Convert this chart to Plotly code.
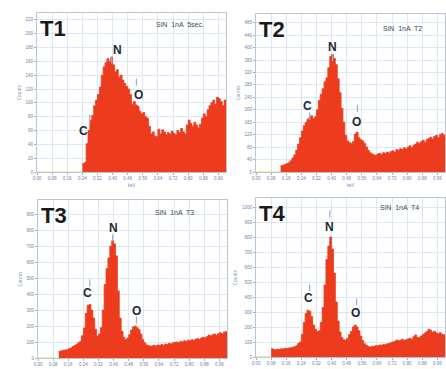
import numpy as np
import plotly.graph_objects as go

# ---------------- data (counts per 0.01 keV channel) ----------------
panel_names = ["T1", "T2", "T3", "T4"]
panel_info = ["SiN  1nA  5sec.", "SiN  1nA  T2", "SiN  1nA  T3", "SiN  1nA  T4"]
start_kev = [0.24, 0.13, 0.11, 0.08]
step_kev = 0.01

t1_counts = [12, 14, 41, 60, 75, 82, 96, 104, 112, 123, 140, 152, 158, 164, 160, 166, 155, 145, 148, 137,
             140, 133, 128, 124, 120, 112, 98, 102, 97, 95, 88, 84, 86, 80, 78, 66, 55, 58, 52, 51,
             62, 55, 61, 58, 54, 57, 55, 59, 56, 54, 60, 57, 63, 58, 55, 68, 75, 70, 66, 72,
             68, 64, 69, 78, 84, 80, 90, 96, 100, 104, 98, 108, 106, 102, 96, 104, 100]
t2_counts = [20, 22, 25, 27, 30, 36, 45, 55, 70, 90, 110, 132, 149, 160, 170, 176, 181, 172, 178, 200,
             230, 250, 268, 290, 303, 335, 372, 378, 365, 345, 300, 255, 205, 160, 118, 100, 95, 92, 98, 122,
             128, 110, 104, 100, 92, 80, 70, 62, 58, 55, 53, 58, 60, 57, 62, 60, 64, 61, 66, 68,
             64, 72, 70, 75, 72, 78, 74, 80, 84, 78, 86, 90, 96, 92, 98, 102, 96, 104, 108, 112,
             106, 114, 118, 110, 120, 124, 118, 122]
t3_counts = [42, 45, 48, 50, 52, 58, 62, 72, 78, 85, 95, 104, 140, 188, 280, 330, 335, 300, 250, 180,
             136, 150, 190, 300, 460, 560, 627, 700, 735, 715, 640, 420, 250, 167, 130, 115, 125, 146, 175, 195,
             200, 190, 178, 150, 115, 95, 82, 78, 73, 76, 80, 74, 82, 78, 85, 80, 88, 84, 92, 88,
             95, 98, 100, 96, 104, 100, 108, 104, 112, 108, 115, 110, 118, 122, 116, 125, 130, 126, 135, 144,
             138, 146, 150, 142, 152, 158, 150, 162, 165, 160]
t4_counts = [55, 50, 48, 52, 50, 55, 54, 58, 56, 60, 62, 65, 68, 75, 90, 100, 150, 230, 290, 312,
             305, 270, 213, 185, 170, 175, 230, 330, 480, 650, 740, 800, 720, 560, 367, 240, 167, 130, 115, 113,
             125, 150, 170, 200, 213, 200, 175, 140, 110, 89, 78, 70, 67, 72, 70, 76, 74, 80, 78, 84,
             82, 88, 90, 96, 100, 104, 113, 108, 112, 118, 110, 115, 120, 125, 118, 135, 147, 130, 128, 140,
             150, 160, 170, 185, 178, 165, 172, 160, 155, 162, 150, 148, 145]
all_counts = [t1_counts, t2_counts, t3_counts, t4_counts]

y_max = [230, 508, 990, 1060]
y_dtick = [20, 40, 100, 100]

elements = ["C", "N", "O"]
# label positions (keV, counts) per panel
label_kev = [[0.247, 0.426, 0.537], [0.274, 0.405, 0.532], [0.263, 0.400, 0.521], [0.279, 0.390, 0.526]]
label_cnt = [[59, 177, 111], [211, 403, 160], [408, 815, 295], [394, 867, 293]]
# small blue line markers
mark_kev = [[0.279, 0.395, 0.526], [0.284, 0.405, 0.537], [0.274, 0.395, 0.521], [0.284, 0.390, 0.532]]
mark_cnt = [[78, 162, 130], [179, 367, 204], [470, 752, 238], [460, 954, 367]]

# ---------------- layout geometry ----------------
W, H = 446, 369
boxes = [(37, 226, 13, 172), (256, 445, 14, 172), (38, 227, 200, 358), (256, 445, 198, 357)]

RED = "#EC3B1D"
fig = go.Figure()

for i in range(4):
    ax = "" if i == 0 else str(i + 1)
    xa, ya = "x" + ax, "y" + ax
    counts = all_counts[i]
    kev = np.round(start_kev[i] + step_kev * np.arange(len(counts)), 3)
    # zero-count baseline before the spectrum starts
    fig.add_trace(go.Scatter(x=[0, start_kev[i]], y=[0, 0], mode="lines",
                             line=dict(color="#e9e36a", width=1.2), xaxis=xa, yaxis=ya,
                             showlegend=False, hoverinfo="skip"))
    fig.add_trace(go.Scatter(x=kev, y=counts, mode="lines", line_shape="hv",
                             line=dict(color=RED, width=0.8), fill="tozeroy", fillcolor=RED,
                             xaxis=xa, yaxis=ya, showlegend=False))
    fig.add_trace(go.Scatter(x=mark_kev[i], y=mark_cnt[i], mode="markers",
                             marker=dict(symbol="line-ns", size=5,
                                         line=dict(color="#8fabe8", width=1.2)),
                             xaxis=xa, yaxis=ya, showlegend=False, hoverinfo="skip"))
    x0, x1, y0, y1 = boxes[i]
    dom_x = [x0 / W, x1 / W]
    dom_y = [1 - y1 / H, 1 - y0 / H]
    common = dict(showgrid=True, gridcolor="#dce7f3", gridwidth=0.6, showline=True,
                  linecolor="#b9c6d6", linewidth=1, mirror=True, zeroline=False,
                  ticks="outside", ticklen=2, tickcolor="#9fb0c8", automargin=False,
                  tickfont=dict(size=4.5, color="#6f84aa", family="Liberation Sans"))
    xtitle = dict(text="keV", font=dict(size=4.5, color="#6f84aa"), standoff=3) if i < 2 else None
    fig.layout["xaxis" + ax] = dict(domain=dom_x, anchor=ya, range=[0, 1.0], dtick=0.08, tick0=0,
                                    tickformat=".2f", title=xtitle, **common)
    fig.layout["yaxis" + ax] = dict(domain=dom_y, anchor=xa, range=[0, y_max[i]], dtick=y_dtick[i],
                                    title=dict(text="Counts", font=dict(size=4.5, color="#6f84aa"), standoff=4),
                                    **common)
    # panel name
    fig.add_annotation(text="<b>%s</b>" % panel_names[i], xref=xa + " domain", yref=ya + " domain",
                       x=0.005, y=0.905, xanchor="left", yanchor="middle", showarrow=False,
                       font=dict(size=22, color="#1a1a1a", family="Liberation Sans"))
    # info text
    info_y = [0.93, 0.91, 0.924, 0.943][i]
    info_x = [0.757, 0.774, 0.72, 0.758][i]
    fig.add_annotation(text=panel_info[i], xref=xa + " domain", yref=ya + " domain",
                       x=info_x, y=info_y, xanchor="center", yanchor="middle", showarrow=False,
                       font=dict(size=7, color="#3a4a5a", family="Liberation Sans"))
    # element labels
    for e, lx, ly in zip(elements, label_kev[i], label_cnt[i]):
        fig.add_annotation(text="<b>%s</b>" % e, xref=xa, yref=ya, x=lx, y=ly,
                           xanchor="center", yanchor="middle", showarrow=False,
                           font=dict(size=12, color="#1d2a33", family="Liberation Sans"))

fig.update_layout(width=W, height=H, margin=dict(l=0, r=0, t=0, b=0),
                  paper_bgcolor="white", plot_bgcolor="white", showlegend=False)
fig.write_html("out.html", config={"displayModeBar": False},
               post_script="document.body.style.margin='0px';document.body.style.overflow='hidden';")
